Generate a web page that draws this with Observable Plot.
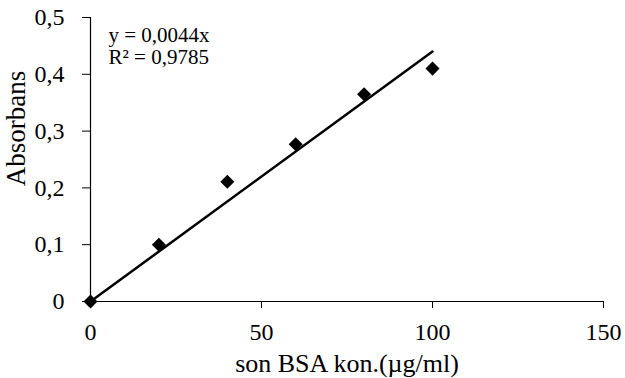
<!DOCTYPE html>
<html><head><meta charset="utf-8">
<script src="https://cdn.jsdelivr.net/npm/d3@7"></script>
<script src="https://cdn.jsdelivr.net/npm/@observablehq/plot@0.6"></script>
<style>body{margin:0;background:#fff}</style>
</head><body><div id="chart"></div>
<script>
const concentrations = [0, 20, 40, 60, 80, 100];
const absorbances = [0, 0.100, 0.211, 0.277, 0.365, 0.410];
const slope = 0.0044;
const equationLabel = "y = 0,0044x";
const r2Label = "R² = 0,9785";
const xLabel = "son BSA kon.(µg/ml)";
const yLabel = "Absorbans";
const xTicks = [0, 50, 100, 150];
const yTicks = [0, 0.1, 0.2, 0.3, 0.4, 0.5];

const points = concentrations.map((c, i) => ({x: c, y: absorbances[i]}));
const xEnds = [concentrations[0], concentrations[concentrations.length - 1]];
const fit = xEnds.map(x => ({x, y: slope * x}));
const fmt = d => String(d).replace(".", ",");

const chart = Plot.plot({
  width: 625, height: 378,
  marginLeft: 90, marginRight: 22, marginTop: 17, marginBottom: 77,
  style: {fontFamily: "Liberation Serif", fontSize: "24px", color: "#000", background: "#fff"},
  x: {domain: [0, 150]},
  y: {domain: [0, 0.5]},
  marks: [
    Plot.axisX({ticks: xTicks, tickSize: 7, text: null, label: null}),
    Plot.axisY({ticks: yTicks, tickSize: 8, text: null, label: null}),
    Plot.text(xTicks, {x: d => d, text: fmt, frameAnchor: "bottom", dy: 31, lineAnchor: "middle", fontSize: 24}),
    Plot.text(yTicks, {y: d => d, text: fmt, frameAnchor: "left", dx: -26, textAnchor: "end", lineAnchor: "middle", fontSize: 24}),
    Plot.ruleY([0], {stroke: "#000", strokeWidth: 1.2}),
    Plot.ruleX([0], {stroke: "#000", strokeWidth: 1.2}),
    Plot.line(fit, {x: "x", y: "y", stroke: "#000", strokeWidth: 2.5}),
    Plot.dot(points, {x: "x", y: "y", symbol: "square", rotate: 45, fill: "#000", stroke: "none", r: 5.6}),
    Plot.text([equationLabel], {frameAnchor: "top-left", dx: 18, dy: 10, fontSize: 21, textAnchor: "start"}),
    Plot.text([r2Label], {frameAnchor: "top-left", dx: 18, dy: 32, fontSize: 21, textAnchor: "start"}),
    Plot.text([xLabel], {frameAnchor: "bottom", dy: 62, fontSize: 26, lineAnchor: "middle"}),
    Plot.text([yLabel], {frameAnchor: "top-left", dx: -74, dy: 111, rotate: -90, fontSize: 27, textAnchor: "middle", lineAnchor: "middle"})
  ]
});
document.getElementById("chart").appendChild(chart);
</script></body></html>
